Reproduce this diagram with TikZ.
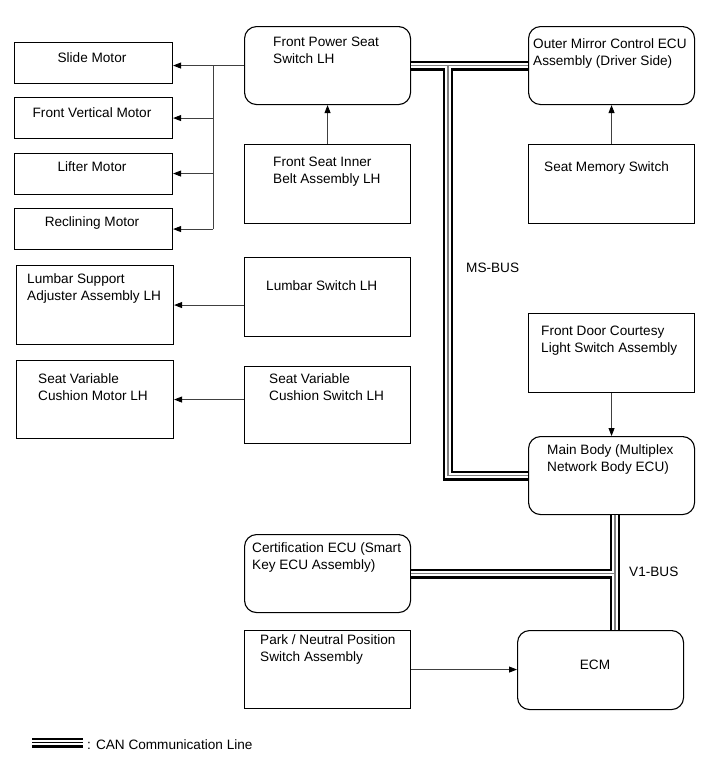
\documentclass[tikz,border=0pt]{standalone}
\usepackage{fontspec}
\setmainfont{Liberation Sans}
\usetikzlibrary{arrows.meta}
\begin{document}
\begin{tikzpicture}[x=1pt,y=-1pt,
  sq/.style={draw=black, line width=1.1pt, fill=white, inner sep=0pt, anchor=north west, minimum width=166pt},
  rnd/.style={sq, rounded corners=12pt},
  txt/.style={anchor=north west, inner sep=0pt, align=left, font=\fontsize{13.6}{17}\selectfont},
  ctxt/.style={txt, anchor=north, align=center},
  ln/.style={draw=black!75, line width=0.9pt},
  arr/.style={ln, -{Triangle[length=8pt,width=6pt,color=black]}},
  canA/.style={draw=black, line width=10pt},
  canB/.style={draw=white, line width=5.2pt},
  canC/.style={draw=black!50, line width=1.6pt}]
\useasboundingbox (0,0) rectangle (713,782);

% boxes
\node[sq, minimum width=158pt, minimum height=41pt] (slide) at (14,41.5) {};
\node[sq, minimum width=158pt, minimum height=41pt] (fvm) at (14,97) {};
\node[sq, minimum width=158pt, minimum height=41pt] (lift) at (14,152.5) {};
\node[sq, minimum width=158pt, minimum height=41pt] (recl) at (14,208) {};
\node[sq, minimum width=157pt, minimum height=79pt] (lsa) at (16,265) {};
\node[sq, minimum width=157pt, minimum height=78pt] (svcm) at (16,360) {};
\node[rnd, minimum height=78pt] (fps) at (244,26) {};
\node[sq, minimum height=79pt] (fsib) at (244,144) {};
\node[sq, minimum height=79pt] (ls) at (244,257) {};
\node[sq, minimum height=77pt] (svcs) at (244,366) {};
\node[rnd, minimum height=78pt] (omc) at (528,26) {};
\node[sq, minimum height=79pt] (sms) at (528,144) {};
\node[sq, minimum height=79pt] (fdc) at (528,313) {};
\node[rnd, minimum height=78pt] (mb) at (528,436) {};
\node[rnd, minimum height=78pt] (cert) at (244,534) {};
\node[sq, minimum height=78pt] (pn) at (244,630) {};
\node[rnd, minimum height=79pt] (ecm) at (517,630) {};

% texts
\node[ctxt] (slideT) at (92,52) {Slide Motor};
\node[ctxt] (fvmT) at (92,107) {Front Vertical Motor};
\node[ctxt] (liftT) at (92,161) {Lifter Motor};
\node[ctxt] (reclT) at (92,216) {Reclining Motor};
\node[txt] (lsaT) at (27,273) {Lumbar Support\\Adjuster Assembly LH};
\node[txt] (svcmT) at (38,373) {Seat Variable\\Cushion Motor LH};
\node[txt] (fpsT) at (273,37) {Front Power Seat\\Switch LH};
\node[txt] (fsibT) at (273,157) {Front Seat Inner\\Belt Assembly LH};
\node[txt] (lsT) at (266,280) {Lumbar Switch LH};
\node[txt] (svcsT) at (269,373) {Seat Variable\\Cushion Switch LH};
\node[txt] (omcT) at (533,38) {Outer Mirror Control ECU\\Assembly (Driver Side)};
\node[txt] (smsT) at (544,161) {Seat Memory Switch};
\node[txt] (fdcT) at (541,326) {Front Door Courtesy\\Light Switch Assembly};
\node[txt] (mbT) at (547,444) {Main Body (Multiplex\\Network Body ECU)};
\node[txt] (certT) at (252,542) {Certification ECU (Smart\\Key ECU Assembly)};
\node[txt] (pnT) at (260,634) {Park / Neutral Position\\Switch Assembly};
\node[ctxt] (ecmT) at (595,660) {ECM};
\node[txt] (msbus) at (466,263) {MS-BUS};
\node[txt] (v1bus) at (629,567) {V1-BUS};
\node[txt] (legT) at (87,739) {: CAN Communication Line};

% helper coordinates
\coordinate (brx) at (213,0);
\coordinate (msx) at (448,0);
\coordinate (v1x) at (615,0);
\coordinate (lgA) at (32,742.5);
\coordinate (lgB) at (83,742.5);

% arrows
\draw[arr] (fps.west) -- (fps.west -| slide.east);
\draw[ln] (fps.west -| brx) -- (brx |- recl.east);
\draw[arr] (brx |- fvm.east) -- (fvm.east);
\draw[arr] (brx |- lift.east) -- (lift.east);
\draw[arr] (brx |- recl.east) -- (recl.east);
\draw[arr] (fsib.north) -- (fsib.north |- fps.south);
\draw[arr] (ls.west |- lsa.east) -- (lsa.east);
\draw[arr] (svcs.west |- svcm.east) -- (svcm.east);
\draw[arr] (sms.north) -- (omc.south);
\draw[arr] (fdc.south) -- (mb.north);
\draw[arr] (pn.east) -- (pn.east -| ecm.west);

% CAN buses
\foreach \s in {canA,canB,canC}{
  \draw[\s] (fps.east) -- (omc.west);
  \draw[\s] (fps.east -| msx) -- (msx |- mb.west) -- (mb.west);
  \draw[\s] (mb.south -| v1x) -- (ecm.north -| v1x);
  \draw[\s] (cert.east) -- (cert.east -| v1x);
}
% legend
\draw[canA] (lgA) -- (lgB);
\draw[canB] (lgA) -- (lgB);
\draw[draw=black, line width=1.6pt] (lgA) -- (lgB);
\end{tikzpicture}
\end{document}
